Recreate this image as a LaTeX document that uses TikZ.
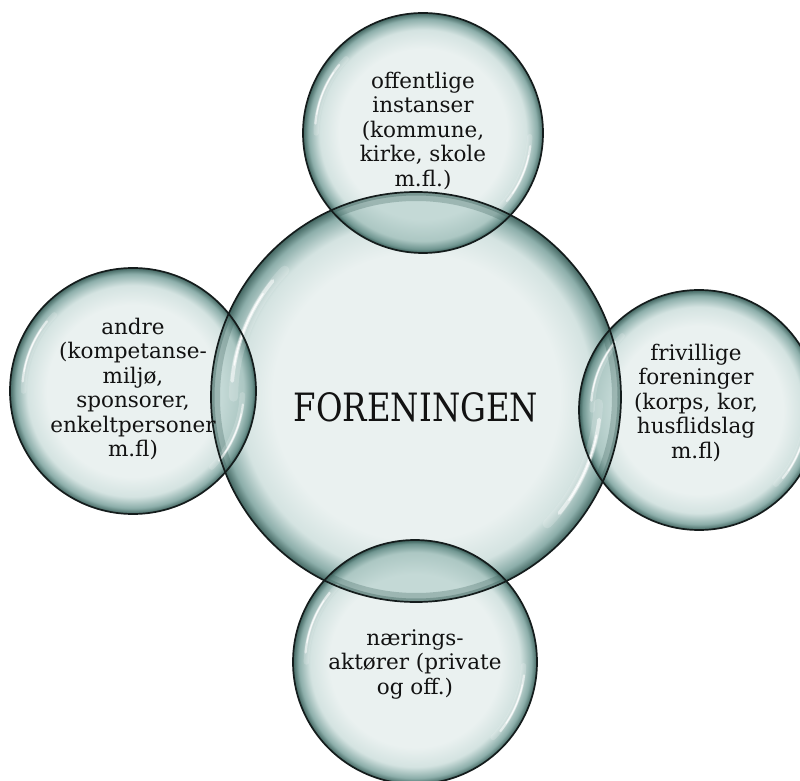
\documentclass[tikz,border=0pt]{standalone}
\usepackage{fontspec}
\setmainfont{DejaVu Serif}
\newfontfamily\bigfont[FakeStretch=0.83]{DejaVu Serif}
\usetikzlibrary{calc}
\definecolor{bIn}{RGB}{234,241,240}
\definecolor{bMid}{RGB}{212,227,225}
\definecolor{bRim}{RGB}{140,174,170}
\definecolor{bOut}{RGB}{66,102,97}
\definecolor{lIn}{RGB}{196,217,214}
\definecolor{lMid}{RGB}{172,199,195}
\definecolor{lRim}{RGB}{112,150,145}
\definecolor{lOut}{RGB}{56,92,87}
\definecolor{lineC}{RGB}{20,28,28}
\definecolor{txtC}{RGB}{18,18,18}
\pgfdeclareradialshading{bubble}{\pgfpoint{0bp}{0bp}}{color(0bp)=(bIn); color(17.5bp)=(bIn); color(21.5bp)=(bMid); color(23.8bp)=(bRim); color(25bp)=(bOut); color(50bp)=(bOut)}
\pgfdeclareradialshading{lensshade}{\pgfpoint{0bp}{0bp}}{color(0bp)=(lIn); color(18bp)=(lIn); color(22.5bp)=(lMid); color(24.2bp)=(lRim); color(25bp)=(lOut); color(50bp)=(lOut)}
\newcommand{\bubblehl}[2]{%
  \foreach \a/\b in {136/180, -44/-2} {
    \draw[white, opacity=0.18, line width=0.045*#2, line cap=round]
      ($(#1)+(\a:0.89*#2)$) arc[start angle=\a, end angle=\b, radius=0.89*#2];
    \draw[white, opacity=0.55, line width=0.018*#2, line cap=round]
      ($(#1)+(\a+5:0.9*#2)$) arc[start angle=\a+5, end angle=\b-5, radius=0.9*#2];
    \draw[white, opacity=0.85, line width=0.008*#2, line cap=round]
      ($(#1)+(\a+10:0.9*#2)$) arc[start angle=\a+10, end angle=\b-10, radius=0.9*#2];
  }}
\newcommand{\lensfill}[4]{% big coord, big radius, small coord, small radius
  \begin{scope}
    \clip (#1) circle[radius=#2];
    \shade[shading=lensshade] (#3) circle[radius=#4];
    \clip (#3) circle[radius=#4];
    \draw[bOut, opacity=0.30, line width=18] (#1) circle[radius=#2];
    \draw[bOut, opacity=0.40, line width=7] (#1) circle[radius=#2];
  \end{scope}}
\tikzset{
  rim/.style={draw=lineC, line width=1.7},
  smalltxt/.style={align=center, inner sep=0pt, text=txtC, font=\fontsize{21.5}{24.5}\selectfont},
  bigtxt/.style={inner sep=0pt, text=txtC, font=\bigfont\fontsize{39}{43}\selectfont}
}
\begin{document}
\begin{tikzpicture}[x=1pt,y=1pt]
\useasboundingbox (0,0) rectangle (800,780);
\fill[white] (0,0) rectangle (800,780);
\coordinate (cB) at (416,383);
\coordinate (cT) at (423,647);
\coordinate (cR) at (699,370);
\coordinate (cL) at (133,389);
\coordinate (cD) at (415,118);
% fills
\shade[shading=bubble] (cB) circle[radius=205];
\shade[shading=bubble] (cT) circle[radius=120];
\shade[shading=bubble] (cR) circle[radius=120];
\shade[shading=bubble] (cL) circle[radius=123];
\shade[shading=bubble] (cD) circle[radius=122];
% lenses
\lensfill{cB}{205}{cT}{120}
\lensfill{cB}{205}{cR}{120}
\lensfill{cB}{205}{cL}{123}
\lensfill{cB}{205}{cD}{122}
% highlights
\bubblehl{cB}{205}
\bubblehl{cT}{120}
\bubblehl{cR}{120}
\bubblehl{cL}{123}
\bubblehl{cD}{122}
% outlines
\draw[rim] (cB) circle[radius=205];
\draw[rim] (cT) circle[radius=120];
\draw[rim] (cR) circle[radius=120];
\draw[rim] (cL) circle[radius=123];
\draw[rim] (cD) circle[radius=122];
% texts
\node[bigtxt] (tB) at (416,373) {FORENINGEN};
\node[smalltxt] (tT) at (423,649) {offentlige\\instanser\\(kommune,\\kirke, skole\\m.fl.)};
\node[smalltxt] (tR) at (696,377) {frivillige\\foreninger\\(korps, kor,\\husflidslag\\m.fl)};
\node[smalltxt] (tL) at (133,391) {andre\\(kompetanse-\\miljø,\\sponsorer,\\enkeltpersoner\\m.fl)};
\node[smalltxt] (tD) at (415,116) {nærings-\\aktører (private\\og off.)};
\end{tikzpicture}
\end{document}
